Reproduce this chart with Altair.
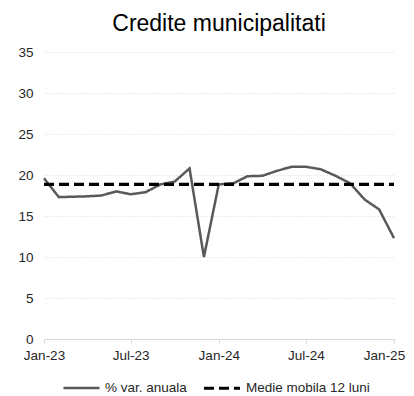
import altair as alt
import pandas as pd

months = ["2023-01-01", "2023-02-01", "2023-03-01", "2023-04-01", "2023-05-01", "2023-06-01",
          "2023-07-01", "2023-08-01", "2023-09-01", "2023-10-01", "2023-11-01", "2023-12-01",
          "2024-01-01", "2024-02-01", "2024-03-01", "2024-04-01", "2024-05-01", "2024-06-01",
          "2024-07-01", "2024-08-01", "2024-09-01", "2024-10-01", "2024-11-01", "2024-12-01",
          "2025-01-01"]
var_anuala = [19.6, 17.3, 17.35, 17.4, 17.5, 18.0, 17.65, 17.9, 18.85, 19.2, 20.8, 10.0,
              18.85, 19.0, 19.85, 19.9, 20.5, 21.0, 21.0, 20.7, 19.9, 19.0, 17.0, 15.8, 12.3]
medie_mobila = [18.85] * 25
series_names = ["% var. anuala", "Medie mobila 12 luni"]
tick_dates = ["2023-01-01", "2023-07-01", "2024-01-01", "2024-07-01", "2025-01-01"]

rows = []
for m, v in zip(months, var_anuala):
    rows.append({"luna": m, "valoare": v, "serie": series_names[0]})
for m, v in zip(months, medie_mobila):
    rows.append({"luna": m, "valoare": v, "serie": series_names[1]})
df = pd.DataFrame(rows)

font = "Liberation Sans"

legend_cfg = dict(orient="none", legendX=18, legendY=316,
                  direction="horizontal", symbolType="stroke",
                  symbolSize=1300, symbolStrokeWidth=2.5,
                  labelFontSize=13.5, labelFont=font,
                  labelColor="#262626", columnPadding=10,
                  labelOffset=4)

chart = alt.Chart(df).mark_line(strokeCap="butt").encode(
    x=alt.X("luna:T", title=None,
            scale=alt.Scale(domain=["2023-01-01", "2025-01-01"]),
            axis=alt.Axis(values=[pd.Timestamp(d).isoformat() for d in tick_dates],
                          format="%b-%y", grid=False, domainColor="#d9d9d9",
                          tickColor="#d9d9d9", tickSize=4, labelPadding=5,
                          labelFontSize=13.5, labelColor="#262626", labelFont=font,
                          labelFlush=False,
                          labelOffset={"condition": {"test": "datum.value > datetime(2024, 9, 1)",
                                                     "value": -10},
                                       "value": 0})),
    y=alt.Y("valoare:Q", title=None,
            scale=alt.Scale(domain=[0, 35], nice=False),
            axis=alt.Axis(values=[0, 5, 10, 15, 20, 25, 30, 35], domain=False, ticks=False,
                          gridColor="#d9d9d9", gridDash=[1, 2], labelPadding=11,
                          labelFontSize=13.5, labelColor="#262626", labelFont=font)),
    color=alt.Color("serie:N", title=None,
                    scale=alt.Scale(domain=series_names, range=["#595959", "#000000"]),
                    legend=alt.Legend(**legend_cfg)),
    strokeDash=alt.StrokeDash("serie:N", title=None,
                              scale=alt.Scale(domain=series_names, range=[[1, 0], [10, 5]]),
                              legend=alt.Legend(**legend_cfg)),
    strokeWidth=alt.StrokeWidth("serie:N", legend=None,
                                scale=alt.Scale(domain=series_names, range=[2.5, 3.2])),
).properties(
    width=350, height=287,
    title=alt.Title("Credite municipalitati", fontSize=23, fontWeight="normal",
                    font=font, color="#000000", offset=9),
    autosize=alt.AutoSizeParams(type="none"),
    padding={"left": 36, "top": 44, "right": 12, "bottom": 60},
).configure_view(stroke=None)

chart.save("out.html", embed_options={"renderer": "svg", "actions": False})
